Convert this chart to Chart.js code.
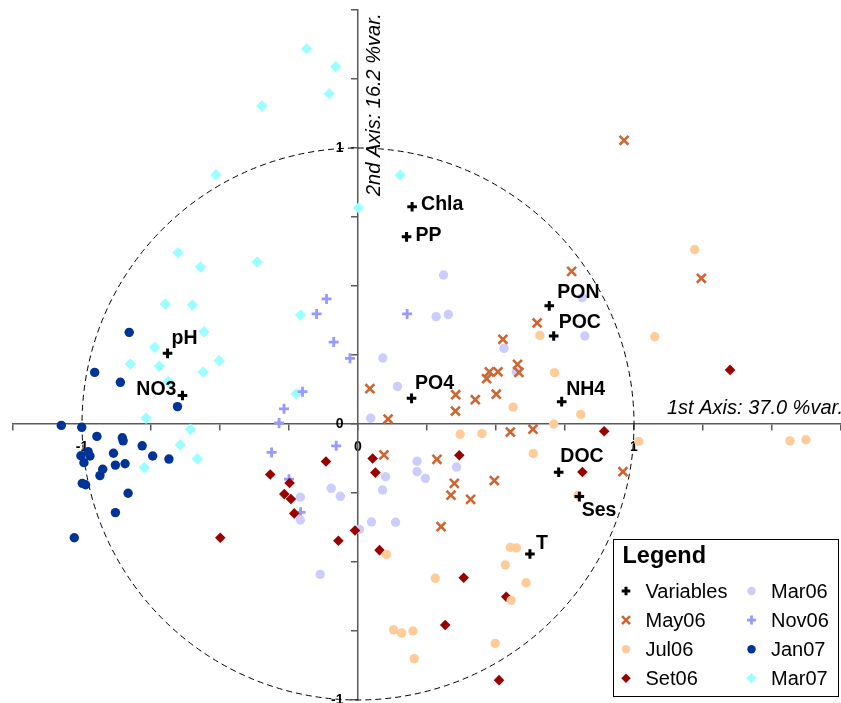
<!DOCTYPE html>
<html>
<head>
<meta charset="utf-8">
<script src="https://cdn.jsdelivr.net/npm/chart.js@4/dist/chart.umd.min.js"></script>
<style>
  html, body { margin: 0; padding: 0; background: #fff; }
  #wrap { width: 841px; height: 703px; }
</style>
</head>
<body>
<div id="wrap"><canvas id="pcaChart" width="841" height="703"></canvas></div>
<script>
// Variable loadings on the first two axes
const varNames = ['Chla', 'PP', 'PON', 'POC', 'pH', 'NO3', 'PO4', 'NH4', 'DOC', 'Ses', 'T'];
const varPoints = [
    [0.196, 0.787], [0.176, 0.678], [0.693, 0.428], [0.709, 0.319], [-0.690, 0.256],
    [-0.636, 0.103], [0.194, 0.093], [0.738, 0.081], [0.727, -0.175], [0.802, -0.263], [0.623, -0.471]
];

// Sample scores per campaign
const may06 = [
    [0.964, 1.028], [0.774, 0.553], [1.244, 0.528], [0.649, 0.366], [0.525, 0.307],
    [0.043, 0.128], [0.109, 0.018], [0.094, -0.112], [0.354, 0.106], [0.353, 0.047],
    [0.425, 0.088], [0.501, 0.108], [0.466, 0.164], [0.476, 0.189], [0.507, 0.189],
    [0.578, 0.216], [0.583, 0.187], [0.552, -0.029], [0.634, -0.019], [0.286, -0.128],
    [0.494, -0.205], [0.349, -0.215], [0.337, -0.258], [0.408, -0.273], [0.960, -0.173],
    [0.301, -0.372]
];
const jul06 = [
    [1.220, 0.632], [0.659, 0.321], [1.075, 0.316], [0.712, 0.186], [0.562, 0.061],
    [0.807, 0.035], [0.709, 0.000], [0.370, -0.037], [0.449, -0.035], [0.635, -0.107],
    [1.017, -0.063], [1.565, -0.061], [1.623, -0.057], [0.797, -0.258], [0.552, -0.447],
    [0.574, -0.449], [0.534, -0.511], [0.280, -0.559], [0.609, -0.575], [0.555, -0.639],
    [0.497, -0.795], [0.103, -0.473], [0.129, -0.746], [0.158, -0.757], [0.199, -0.750],
    [0.204, -0.850]
];
const set06 = [
    [1.348, 0.196], [0.892, -0.026], [0.367, -0.113], [0.813, -0.174], [0.383, -0.557],
    [0.537, -0.626], [0.316, -0.728], [0.511, -0.928], [-0.116, -0.136], [0.053, -0.125],
    [0.063, -0.176], [-0.318, -0.183], [-0.248, -0.214], [-0.267, -0.254], [-0.243, -0.272],
    [-0.231, -0.324], [-0.011, -0.386], [-0.071, -0.423], [0.078, -0.457], [-0.499, -0.412]
];
const mar06 = [
    [0.310, 0.540], [0.283, 0.389], [0.327, 0.397], [0.813, 0.458], [0.822, 0.319],
    [0.529, 0.274], [0.574, 0.189], [0.090, 0.239], [0.143, 0.136], [0.046, 0.021],
    [0.214, -0.135], [0.357, -0.156], [0.214, -0.173], [0.100, -0.191], [0.244, -0.197],
    [0.089, -0.239], [0.049, -0.355], [0.136, -0.356], [0.005, -0.382], [-0.097, -0.233],
    [-0.064, -0.262], [-0.209, -0.265], [-0.209, -0.348], [-0.137, -0.545]
];
const nov06 = [
    [-0.114, 0.453], [-0.150, 0.399], [0.178, 0.399], [-0.088, 0.297], [-0.029, 0.238],
    [-0.201, 0.117], [-0.268, 0.055], [-0.286, 0.004], [-0.079, -0.079], [-0.313, -0.103],
    [-0.250, -0.200], [-0.208, -0.320]
];
const jan07 = [
    [-0.829, 0.332], [-0.954, 0.187], [-0.861, 0.151], [-0.654, 0.063], [-1.075, -0.005],
    [-1.001, -0.012], [-0.946, -0.045], [-0.854, -0.050], [-0.851, -0.061], [-0.782, -0.079],
    [-0.744, -0.116], [-0.685, -0.127], [-1.004, -0.115], [-0.978, -0.100], [-0.971, -0.116],
    [-0.993, -0.140], [-0.886, -0.106], [-0.879, -0.149], [-0.844, -0.144], [-0.925, -0.164],
    [-0.935, -0.187], [-0.999, -0.215], [-0.987, -0.220], [-0.833, -0.251], [-0.879, -0.321],
    [-1.028, -0.412]
];
const mar07 = [
    [-0.186, 1.360], [-0.081, 1.295], [-0.104, 1.197], [-0.348, 1.152], [-0.514, 0.903],
    [0.153, 0.902], [0.002, 0.783], [-0.652, 0.621], [-0.571, 0.569], [-0.365, 0.587],
    [-0.698, 0.435], [-0.600, 0.431], [-0.208, 0.395], [-0.558, 0.334], [-0.737, 0.278],
    [-0.825, 0.217], [-0.720, 0.209], [-0.687, 0.153], [-0.561, 0.188], [-0.503, 0.229],
    [-0.224, 0.109], [-0.768, 0.021], [-0.607, -0.019], [-0.644, -0.075], [-0.582, -0.126],
    [-0.774, -0.158]
];

// Axis titles and tick labels
const xAxisTitle = '1st Axis: 37.0 %var.';
const yAxisTitle = '2nd Axis: 16.2 %var.';
const labelledTicks = [-1, 0, 1];

const FONT = '"Liberation Sans", Arial, sans-serif';
const TICK_FONT = 'bold 14px ' + FONT;

// Where each variable name sits relative to its marker (dx, dy, align)
const varLabelPlacement = {
    Chla: [9, -2, 'left'], PP: [9, -1.5, 'left'], PON: [8, -13.5, 'left'],
    POC: [5, -13.5, 'left'], pH: [4, -15, 'left'], NO3: [-6, -5.5, 'right'],
    PO4: [3.5, -15, 'left'], NH4: [4.5, -12.5, 'left'], DOC: [1.7, -16, 'left'],
    Ses: [2.3, 14.5, 'left'], T: [6, -10, 'left']
};

const seriesStyles = [
    { label: 'Variables', data: varPoints, pointStyle: 'cross', color: '#000000', radius: 4.8, width: 3 },
    { label: 'May06', data: may06, pointStyle: 'crossRot', color: '#CC6633', radius: 6.3, width: 2.6 },
    { label: 'Jul06', data: jul06, pointStyle: 'circle', color: '#FFCC99', radius: 4.7, width: 0 },
    { label: 'Set06', data: set06, pointStyle: 'rectRot', color: '#990000', radius: 5.3, width: 0 },
    { label: 'Mar06', data: mar06, pointStyle: 'circle', color: '#CCCCFF', radius: 4.7, width: 0 },
    { label: 'Nov06', data: nov06, pointStyle: 'cross', color: '#9999FF', radius: 5, width: 2.8 },
    { label: 'Jan07', data: jan07, pointStyle: 'circle', color: '#003399', radius: 4.7, width: 0 },
    { label: 'Mar07', data: mar07, pointStyle: 'rectRot', color: '#99FFFF', radius: 5.7, width: 0 }
];

const datasets = seriesStyles.map(function (s) {
    return {
        label: s.label,
        data: s.data.map(function (p) { return { x: p[0], y: p[1] }; }),
        pointStyle: s.pointStyle,
        pointRadius: s.radius,
        pointHoverRadius: s.radius,
        pointBorderWidth: s.width,
        borderColor: s.color,
        backgroundColor: s.color,
        showLine: false
    };
});

const biplotPlugin = {
    id: 'biplot',
    beforeDatasetsDraw(chart) {
        // unit correlation circle
        const ctx = chart.ctx;
        const xs = chart.scales.x, ys = chart.scales.y;
        const cx = xs.getPixelForValue(0), cy = ys.getPixelForValue(0);
        const rx = xs.getPixelForValue(1) - cx, ry = cy - ys.getPixelForValue(1);
        ctx.save();
        ctx.setLineDash([6, 4]);
        ctx.lineWidth = 1;
        ctx.strokeStyle = '#000';
        ctx.beginPath();
        ctx.ellipse(cx, cy, rx, ry, 0, 0, Math.PI * 2);
        ctx.stroke();
        ctx.restore();
    },
    afterDatasetsDraw(chart) {
        const ctx = chart.ctx;
        const xs = chart.scales.x, ys = chart.scales.y;
        const x0 = xs.getPixelForValue(0);
        ctx.save();

        // y tick labels, left of the vertical axis
        ctx.fillStyle = '#000';
        ctx.font = TICK_FONT;
        ctx.textAlign = 'right';
        ctx.textBaseline = 'middle';
        labelledTicks.forEach(function (v) {
            ctx.fillText(String(v), x0 - 14.5, ys.getPixelForValue(v) + 0.5);
        });

        // variable names
        ctx.font = 'bold 19.5px ' + FONT;
        varNames.forEach(function (name, i) {
            const pl = varLabelPlacement[name];
            const px = xs.getPixelForValue(varPoints[i][0]);
            const py = ys.getPixelForValue(varPoints[i][1]);
            ctx.textAlign = pl[2];
            ctx.fillText(name, px + pl[0], py + pl[1]);
        });

        // axis titles
        ctx.font = 'italic 20px ' + FONT;
        ctx.textBaseline = 'alphabetic';
        ctx.textAlign = 'left';
        ctx.fillText(xAxisTitle, 667, ys.getPixelForValue(0) - 10);
        ctx.save();
        ctx.translate(x0 + 22, 196);
        ctx.rotate(-Math.PI / 2);
        ctx.fillText(yAxisTitle, 0, 0);
        ctx.restore();

        // legend box
        const bx = 613.5, by = 539.5, bw = 225, bh = 157;
        ctx.fillStyle = '#fff';
        ctx.fillRect(bx, by, bw, bh);
        ctx.strokeStyle = '#000';
        ctx.lineWidth = 1;
        ctx.strokeRect(bx, by, bw, bh);
        ctx.fillStyle = '#000';
        ctx.font = 'bold 23.5px ' + FONT;
        ctx.fillText('Legend', 622.5, 563);

        ctx.font = '20px ' + FONT;
        ctx.textBaseline = 'middle';
        seriesStyles.forEach(function (s, i) {
            const col = i < 4 ? 0 : 1;
            const row = i % 4;
            const mx = col === 0 ? 626 : 751.5;
            const my = 591 + row * 29.1;
            ctx.fillStyle = s.color;
            ctx.strokeStyle = s.color;
            ctx.lineWidth = s.width;
            Chart.helpers.drawPoint(ctx, {
                pointStyle: s.pointStyle, radius: s.radius * 0.9, borderWidth: s.width, rotation: 0
            }, mx, my);
            ctx.fillStyle = '#000';
            ctx.fillText(s.label, mx + 19.5, my + 1);
        });
        ctx.restore();
    }
};

function tickLabel(value) {
    return labelledTicks.indexOf(value) >= 0 ? String(value) : '';
}

// the axes cross inside the plot, so their labels must not shrink the area
function noScalePadding(scale) {
    scale.paddingTop = 0;
    scale.paddingBottom = 0;
    scale.paddingLeft = 0;
    scale.paddingRight = 0;
}

new Chart(document.getElementById('pcaChart'), {
    type: 'scatter',
    data: { datasets: datasets },
    options: {
        responsive: false,
        devicePixelRatio: 1,
        animation: false,
        layout: { autoPadding: false, padding: { left: 13, top: 10, right: 0, bottom: 3 } },
        scales: {
            x: {
                type: 'linear',
                min: -1.25,
                max: 1.75,
                position: { y: 0 },
                afterFit: noScalePadding,
                grid: { drawOnChartArea: false, drawTicks: true, tickLength: 6, color: '#5a5a5a', lineWidth: 1.5 },
                border: { color: '#5a5a5a', width: 1.5 },
                ticks: {
                    stepSize: 0.25,
                    autoSkip: false,
                    maxRotation: 0,
                    padding: 9,
                    color: '#000',
                    font: { family: FONT, size: 14, weight: 'bold' },
                    callback: tickLabel
                }
            },
            y: {
                type: 'linear',
                min: -1,
                max: 1.5,
                position: { x: 0 },
                afterFit: noScalePadding,
                grid: { drawOnChartArea: false, drawTicks: true, tickLength: 6, color: '#5a5a5a', lineWidth: 1.5 },
                border: { color: '#5a5a5a', width: 1.5 },
                ticks: {
                    stepSize: 0.25,
                    autoSkip: false,
                    // labels for this axis are drawn by the biplot plugin
                    callback: function () { return ''; }
                }
            }
        },
        plugins: {
            legend: { display: false },
            tooltip: { enabled: false }
        }
    },
    plugins: [biplotPlugin]
});
</script>
</body>
</html>
